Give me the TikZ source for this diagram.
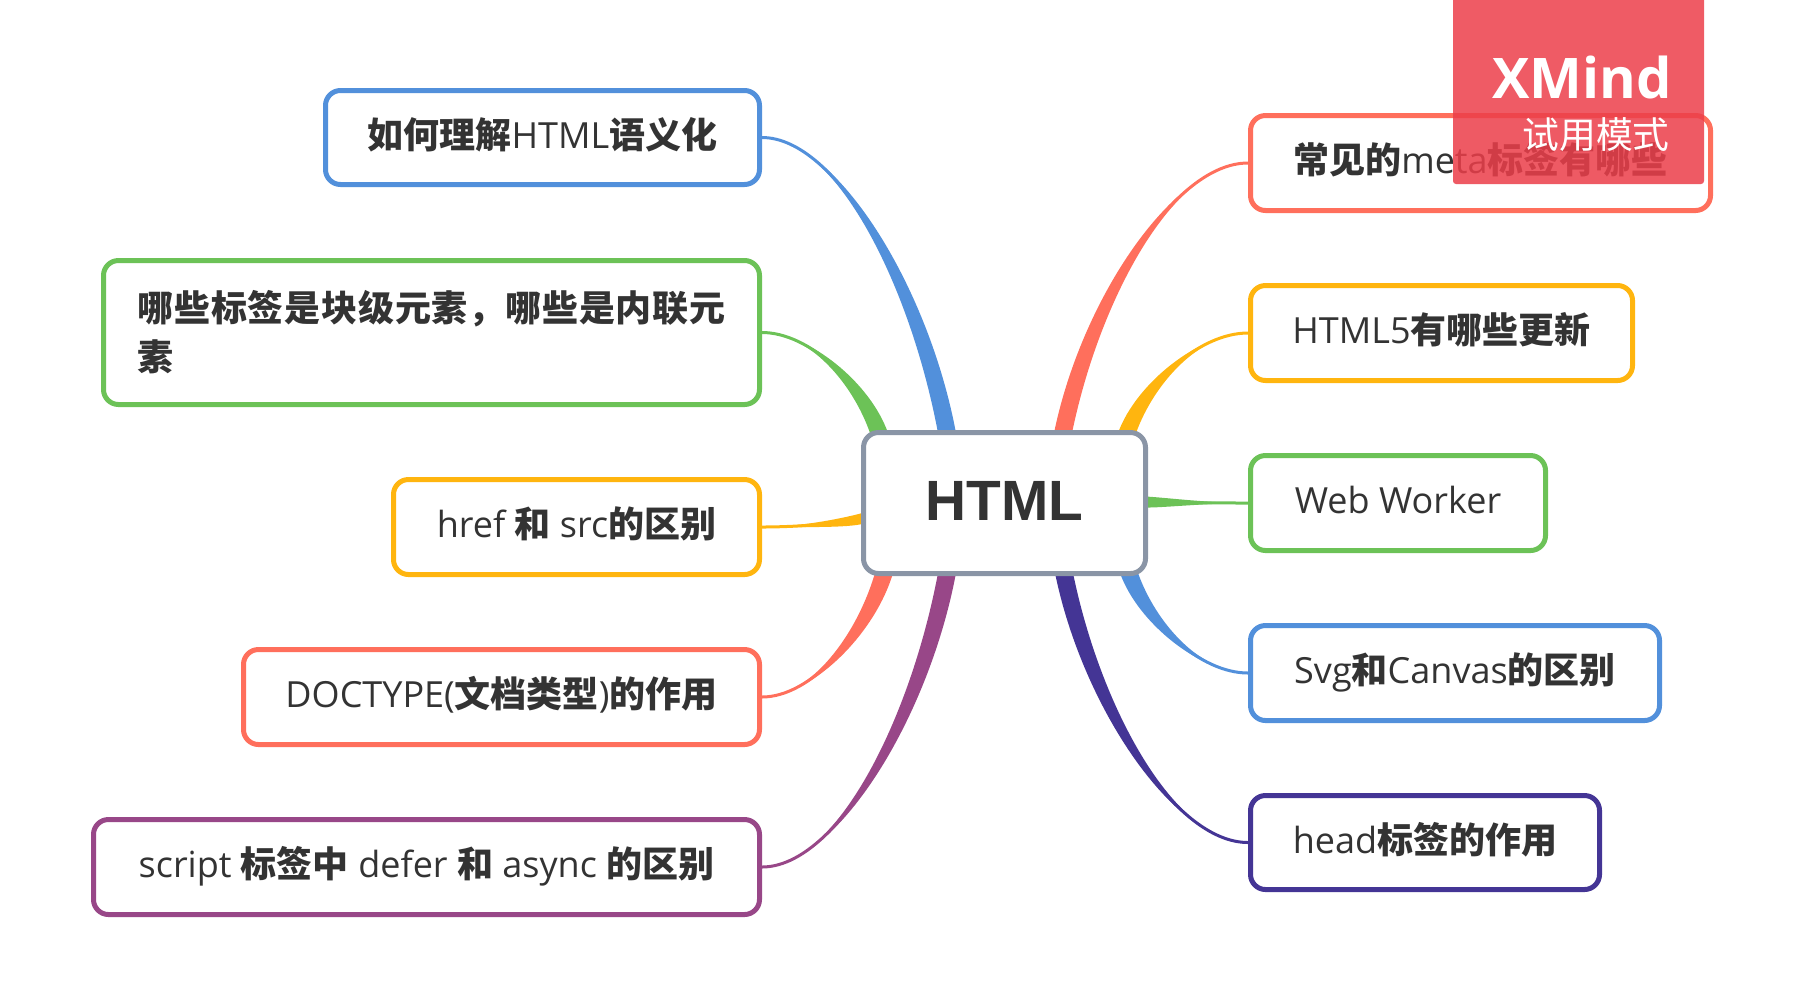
\documentclass[tikz,border=0pt]{standalone}
\usepackage{fontspec}
\setmainfont{Open Sans}
\newfontfamily\cjk{Noto Sans CJK SC}
\newfontfamily\cjkwide{Noto Sans CJK SC}[LetterSpace=2.2]
\newfontfamily\hfont{Liberation Sans}
\usetikzlibrary{calc}
\pgfdeclarelayer{bg}
\pgfsetlayers{bg,main}
\definecolor{cblue}{HTML}{5290DB}
\definecolor{cgreen}{HTML}{6CC257}
\definecolor{cyellow}{HTML}{FFB50F}
\definecolor{corange}{HTML}{FF6F5C}
\definecolor{cpurple}{HTML}{984788}
\definecolor{cindigo}{HTML}{443595}
\definecolor{cgray}{HTML}{8A95A6}
\definecolor{txt}{HTML}{333333}
\definecolor{wm}{RGB}{236,62,74}
\newcommand\zh[1]{{\cjk\bfseries #1}}
\newcommand\branch[4]{%
  \coordinate (bS) at (#2);
  \coordinate (bE) at (#3);
  \coordinate (bD) at (bS -| bE);
  \coordinate (bC1) at ($(bS)!0.4!(bD)$);
  \coordinate (bA) at ($(bE)!0.15!(bS)$);
  \coordinate (bB) at ($(bE)!0.5!(bS)$);
  \coordinate (bC2) at (bA |- bB);
  \fill[#1] (bS) .. controls (bC1) and ($(bC2)+#4$) .. ($(bE)+#4$) -- ($(bE)-#4$) .. controls ($(bC2)-#4$) and (bC1) .. (bS) -- cycle;
  \draw[#1, line width=1.5pt] (bS) .. controls (bC1) and (bC2) .. (bE);
}
\tikzset{
  topic/.style={draw=#1, line width=2.5pt, rounded corners=7.5pt, fill=white,
    text=txt, inner sep=0pt, align=center, font=\fontsize{18}{24.5}\selectfont},
  oneline/.style={text height=14.4pt, text depth=3.6pt},
  centre/.style={draw=cgray, line width=2.5pt, rounded corners=7.5pt, fill=white,
    text=txt, inner sep=0pt, font=\hfont\bfseries\fontsize{28.4}{30}\selectfont,
    text height=17.7pt, text depth=0pt},
}
\begin{document}
\begin{tikzpicture}[x=0.5pt,y=-0.5pt]
\useasboundingbox (0,0) rectangle (1799,1003);
% central topic
\node[centre, minimum width=141pt, minimum height=70.5pt] (c) at (1004.5,503) {HTML};
% left topics
\node[topic=cblue, oneline, minimum width=217pt, minimum height=47pt] (L1) at (542.5,137.5) {\zh{如何理解}HTML\zh{语义化}};
\node[topic=cgreen, align=left, minimum width=328pt, minimum height=72pt] (L2) at (431.5,332.5) {{\cjkwide\bfseries 哪些标签是块级元素，哪些是内联元}\\{\cjkwide\bfseries 素}};
\node[topic=cyellow, oneline, minimum width=183pt, minimum height=47.5pt] (L3) at (576.5,527) {href \zh{和} src\zh{的区别}};
\node[topic=corange, oneline, minimum width=258pt, minimum height=47.5pt] (L4) at (501.5,697) {DOCTYPE(\zh{文档类型})\zh{的作用}};
\node[topic=cpurple, oneline, minimum width=333pt, minimum height=47.5pt] (L5) at (426.5,867) {script \zh{标签中} defer \zh{和} async \zh{的区别}};
% right topics
\node[topic=corange, oneline, minimum width=230pt, minimum height=47.5pt] (R1) at (1480.5,163) {\zh{常见的}meta\zh{标签有哪些}};
\node[topic=cyellow, oneline, minimum width=191pt, minimum height=47.5pt] (R2) at (1441.5,333) {HTML5\zh{有哪些更新}};
\node[topic=cgreen, oneline, minimum width=147.5pt, minimum height=47.5pt] (R3) at (1398,503) {Web Worker};
\node[topic=cblue, oneline, minimum width=204.5pt, minimum height=47.5pt] (R4) at (1455,673) {Svg\zh{和}Canvas\zh{的区别}};
\node[topic=cindigo, oneline, minimum width=174.5pt, minimum height=47pt] (R5) at (1425,842.5) {head\zh{标签的作用}};
% branch end points on the central topic
\coordinate (eL1) at (947,433);
\coordinate (eL2) at (879,433);
\coordinate (eL3) at (864,518);
\coordinate (eL4) at (884,573);
\coordinate (eL5) at (947,573);
\coordinate (eR1) at (1063,433);
\coordinate (eR2) at (1127,433);
\coordinate (eR3) at (1145,502);
\coordinate (eR4) at (1129,573);
\coordinate (eR5) at (1064,573);
\begin{pgfonlayer}{bg}
\branch{cblue}{L1.east}{eL1}{(9,0)}
\branch{cgreen}{L2.east}{eL2}{(9,0)}
\branch{cyellow}{L3.east}{eL3}{(0,5.5)}
\branch{corange}{L4.east}{eL4}{(9,0)}
\branch{cpurple}{L5.east}{eL5}{(9,0)}
\branch{corange}{R1.west}{eR1}{(9,0)}
\branch{cyellow}{R2.west}{eR2}{(9,0)}
\branch{cgreen}{R3.west}{eR3}{(0,5.5)}
\branch{cblue}{R4.west}{eR4}{(9,0)}
\branch{cindigo}{R5.west}{eR5}{(9,0)}
\end{pgfonlayer}
% watermark
\fill[wm, fill opacity=0.85, rounded corners=1.5pt] (1453,-10) rectangle (1704,184);
\node[anchor=base east, inner sep=0pt, text=white, font=\bfseries\fontsize{28}{30}\selectfont] (xm) at (1672,98) {XMind};
\node[anchor=east, inner sep=0pt, text=white, font=\cjk\fontsize{18.4}{20}\selectfont] (xm2) at (1670,134.5) {试用模式};
\end{tikzpicture}
\end{document}
